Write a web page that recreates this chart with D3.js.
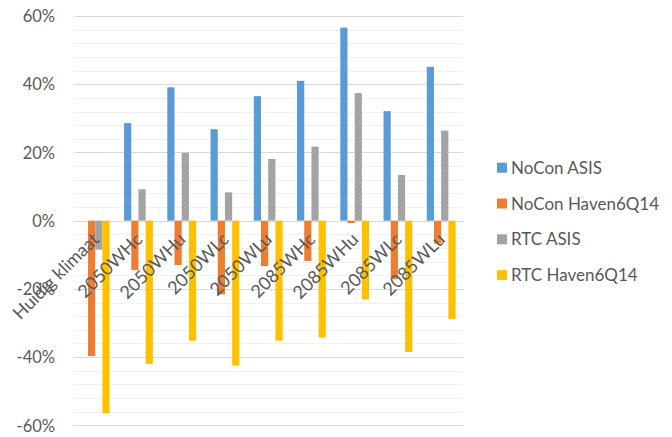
<!DOCTYPE html>
<html>
<head>
<meta charset="utf-8">
<script src="https://cdn.jsdelivr.net/npm/d3@7/dist/d3.min.js"></script>
<style>
  html, body { margin: 0; padding: 0; background: #ffffff; }
  svg { display: block; }
  text { font-family: Lato, "Open Sans", sans-serif; fill: #595959; }
</style>
</head>
<body>
<svg id="chart" width="672" height="437"></svg>
<script>
// Scenario categories along the x axis
const categories = ["Huidig klimaat", "2050WHc", "2050WHu", "2050WLc", "2050WLu",
                    "2085WHc", "2085WHu", "2085WLc", "2085WLu"];

// Series names (legend order) and their values as fractions
const seriesNames = ["NoCon ASIS", "NoCon Haven6Q14", "RTC ASIS", "RTC Haven6Q14"];
const noConAsis      = [0.000, 0.286, 0.391, 0.268, 0.365, 0.410, 0.566, 0.321, 0.451];
const noConHaven     = [-0.397, -0.145, -0.130, -0.216, -0.133, -0.118, -0.007, -0.171, -0.067];
const rtcAsis        = [-0.085, 0.092, 0.199, 0.083, 0.181, 0.217, 0.374, 0.134, 0.264];
const rtcHaven       = [-0.565, -0.420, -0.352, -0.425, -0.352, -0.343, -0.231, -0.385, -0.288];

// Y axis ticks
const yTicks = [0.6, 0.4, 0.2, 0, -0.2, -0.4, -0.6];
const yTickLabels = ["60%", "40%", "20%", "0%", "-20%", "-40%", "-60%"];

const seriesValues = [noConAsis, noConHaven, rtcAsis, rtcHaven];
const colors = ["#5b9bd5", "#ed7d31", "#a5a5a5", "#ffc000"];

const svg = d3.select("#chart");

// Fine texture for the grey series
const defs = svg.append("defs");
const pat = defs.append("pattern")
  .attr("id", "greyTex").attr("patternUnits", "userSpaceOnUse")
  .attr("width", 3).attr("height", 3)
  .attr("patternTransform", "rotate(45)");
pat.append("rect").attr("width", 3).attr("height", 3).attr("fill", "#a9a9a9");
pat.append("rect").attr("width", 1).attr("height", 3).attr("fill", "#989898");

const fills = [colors[0], colors[1], "url(#greyTex)", colors[3]];

const plot = { left: 73.6, right: 462.8, top: 16, bottom: 425.3 };

const x0 = d3.scaleBand().domain(categories).range([plot.left, plot.right]).padding(0);
const bw = x0.bandwidth();
const gap = bw * 0.334;
const x1 = d3.scaleBand().domain(d3.range(seriesNames.length))
  .range([gap / 2, bw - gap / 2]).padding(0);

const y = d3.scaleLinear().domain([-0.6, 0.6]).range([plot.bottom, plot.top]);

// Minor gridlines every 4%
const minor = d3.range(-0.6, 0.6001, 0.04).filter(v => Math.abs(Math.round(v * 100) % 20) !== 0);
svg.append("g").selectAll("line").data(minor).join("line")
  .attr("x1", plot.left).attr("x2", plot.right)
  .attr("y1", d => Math.round(y(d)) + 0.5).attr("y2", d => Math.round(y(d)) + 0.5)
  .attr("stroke", "#f0f0f0").attr("stroke-width", 1);

// Major gridlines and tick labels through a left axis
const yAxis = d3.axisLeft(y).tickValues(yTicks)
  .tickFormat((d, i) => yTickLabels[i]).tickSize(0).tickPadding(0);
const gAxis = svg.append("g").attr("transform", `translate(${plot.left},0)`).call(yAxis);
gAxis.select(".domain").remove();
gAxis.selectAll("text")
  .attr("x", 55 - plot.left).attr("dy", "0.35em")
  .style("font-size", "16.5px").style("fill", "#595959").style("font-family", "Lato, sans-serif");
svg.append("g").selectAll("line").data(yTicks).join("line")
  .attr("x1", plot.left).attr("x2", plot.right)
  .attr("y1", d => Math.round(y(d)) + 0.5).attr("y2", d => Math.round(y(d)) + 0.5)
  .attr("stroke", "#d9d9d9").attr("stroke-width", 1);

// Bars
const groups = svg.append("g").selectAll("g").data(categories).join("g")
  .attr("transform", d => `translate(${x0(d)},0)`);
groups.selectAll("rect")
  .data((c, ci) => seriesValues.map((vals, si) => ({ si, v: vals[ci] })))
  .join("rect")
  .attr("x", d => x1(d.si))
  .attr("width", x1.bandwidth())
  .attr("y", d => y(Math.max(0, d.v)))
  .attr("height", d => Math.abs(y(d.v) - y(0)))
  .attr("fill", d => fills[d.si]);

// Category labels, rotated, drawn over the bars next to the zero line
svg.append("g").selectAll("text").data(categories).join("text")
  .attr("transform", d => `translate(${x0(d) + bw / 2 + 5},${y(0) + 20}) rotate(-45)`)
  .attr("text-anchor", "end")
  .style("font-size", "18px")
  .text(d => d);

// Legend
const legend = svg.append("g").selectAll("g").data(seriesNames).join("g")
  .attr("transform", (d, i) => `translate(497,${167.7 + i * 35.8})`);
legend.append("rect").attr("x", 0).attr("y", -5).attr("width", 10).attr("height", 10)
  .attr("fill", (d, i) => fills[i]);
legend.append("text").attr("x", 14).attr("dy", "0.36em")
  .style("font-size", "17px").text(d => d);
</script>
</body>
</html>
